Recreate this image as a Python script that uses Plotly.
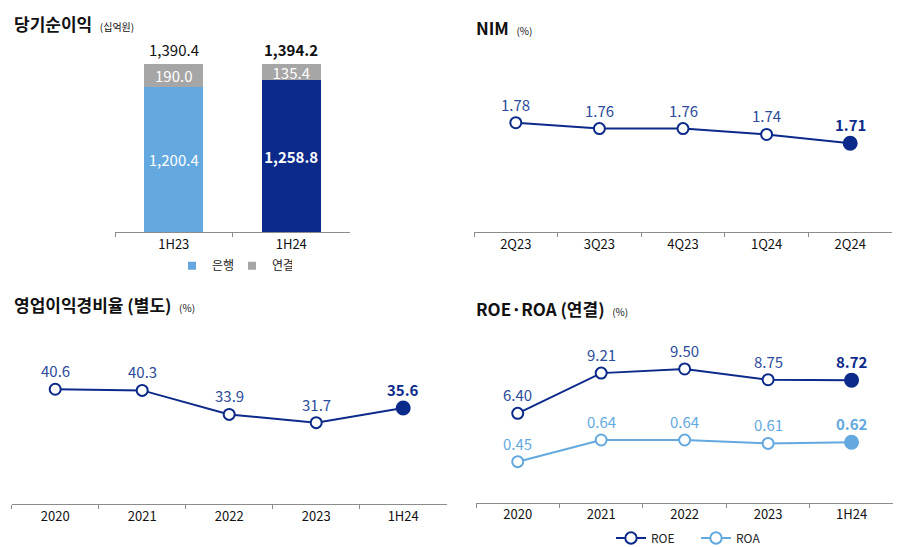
import plotly.graph_objects as go

# ---------------- data ----------------
ni_periods = ["1H23", "1H24"]
ni_bank = [1200.4, 1258.8]
ni_consol = [190.0, 135.4]

nim_quarters = ["2Q23", "3Q23", "4Q23", "1Q24", "2Q24"]
nim_values = [1.78, 1.76, 1.76, 1.74, 1.71]

years = ["2020", "2021", "2022", "2023", "1H24"]
cir_values = [40.6, 40.3, 33.9, 31.7, 35.6]
roe_values = [6.40, 9.21, 9.50, 8.75, 8.72]
roa_values = [0.45, 0.64, 0.64, 0.61, 0.62]

# ---------------- style ----------------
W, H = 899, 547
FONT = "Noto Sans CJK KR, Noto Sans, sans-serif"
NAVY = "#0c2a8a"
LBLUE = "#63a9e0"
GRAY = "#a6a6a6"
LABEL_BLUE = "#2b4b9b"
AXIS_COL = "#8c8c8c"


def fx(px):
    return px / W


def fy(py):
    return 1 - py / H


fig = go.Figure()

# ---------- panel 1: stacked bars ----------
bank_text = [f"{v:,.1f}" for v in ni_bank]
bank_text[-1] = f"<b>{bank_text[-1]}</b>"
fig.add_trace(go.Bar(
    x=ni_periods, y=ni_bank, width=0.5,
    marker=dict(color=[LBLUE, NAVY], line=dict(width=0)),
    text=bank_text, textposition="inside", insidetextanchor="middle",
    textangle=0, constraintext="none",
    textfont=dict(color="white", size=15, family=FONT),
    showlegend=False, xaxis="x", yaxis="y", hoverinfo="skip",
))
fig.add_trace(go.Bar(
    x=ni_periods, y=ni_consol, width=0.5,
    marker=dict(color=GRAY, line=dict(width=0)),
    text=[f"{v:,.1f}" for v in ni_consol], textposition="inside",
    insidetextanchor="middle", textangle=0, constraintext="none",
    textfont=dict(color="white", size=15, family=FONT),
    showlegend=False, xaxis="x", yaxis="y", hoverinfo="skip",
))
# legend entries for panel 1
fig.add_trace(go.Scatter(x=[None], y=[None], mode="markers", name="은행",
                         marker=dict(symbol="square", size=8, color=LBLUE),
                         legend="legend", xaxis="x", yaxis="y"))
fig.add_trace(go.Scatter(x=[None], y=[None], mode="markers", name="연결",
                         marker=dict(symbol="square", size=8, color=GRAY),
                         legend="legend", xaxis="x", yaxis="y"))

annotations = []
for i, p in enumerate(ni_periods):
    tot = ni_bank[i] + ni_consol[i]
    t = f"{tot:,.1f}"
    if i == len(ni_periods) - 1:
        t = f"<b>{t}</b>"
    annotations.append(dict(x=i, y=tot, xref="x", yref="y", text=t, showarrow=False,
                            yanchor="bottom", yshift=2,
                            font=dict(size=15, color="#111111", family=FONT)))


def marker_style(color, n):
    return dict(symbol="circle", size=[11] * (n - 1) + [13], opacity=1,
                color=["white"] * (n - 1) + [color],
                line=dict(color=color, width=2))


def add_labels(ys, fmt, xref, yref, color, last_color):
    n = len(ys)
    for i, yv in enumerate(ys):
        t = fmt.format(yv)
        c = color
        if i == n - 1:
            t = f"<b>{t}</b>"
            c = last_color
        annotations.append(dict(x=i, y=yv, xref=xref, yref=yref, text=t,
                                showarrow=False, yanchor="bottom", yshift=6,
                                font=dict(size=15, color=c, family=FONT)))


# ---------- panel 2: NIM ----------
fig.add_trace(go.Scatter(x=nim_quarters, y=nim_values, mode="lines+markers",
                         line=dict(color=NAVY, width=2),
                         marker=marker_style(NAVY, len(nim_values)),
                         showlegend=False, xaxis="x2", yaxis="y2", hoverinfo="skip"))
add_labels(nim_values, "{:.2f}", "x2", "y2", LABEL_BLUE, NAVY)

# ---------- panel 3: cost-income ratio ----------
fig.add_trace(go.Scatter(x=years, y=cir_values, mode="lines+markers",
                         line=dict(color=NAVY, width=2),
                         marker=marker_style(NAVY, len(cir_values)),
                         showlegend=False, xaxis="x3", yaxis="y3", hoverinfo="skip"))
add_labels(cir_values, "{:.1f}", "x3", "y3", LABEL_BLUE, NAVY)

# ---------- panel 4: ROE / ROA ----------
fig.add_trace(go.Scatter(x=years, y=roe_values, mode="lines+markers", name="ROE",
                         line=dict(color=NAVY, width=2),
                         marker=marker_style(NAVY, len(roe_values)),
                         legend="legend2", xaxis="x4", yaxis="y4", hoverinfo="skip"))
fig.add_trace(go.Scatter(x=years, y=roa_values, mode="lines+markers", name="ROA",
                         line=dict(color=LBLUE, width=2),
                         marker=marker_style(LBLUE, len(roa_values)),
                         legend="legend2", xaxis="x4", yaxis="y5", hoverinfo="skip"))
add_labels(roe_values, "{:.2f}", "x4", "y4", LABEL_BLUE, NAVY)
add_labels(roa_values, "{:.2f}", "x4", "y5", LBLUE, LBLUE)

# ---------- titles ----------
titles = [
    (12, 23, "당기순이익", "(십억원)"),
    (474, 27, "NIM", "(%)"),
    (12, 305, "영업이익경비율 (별도)", "(%)"),
    (474, 308, "ROE·ROA (연결)", "(%)"),
]
for px, py, main, unit in titles:
    annotations.append(dict(
        x=fx(px), y=fy(py), xref="paper", yref="paper", xanchor="left", yanchor="middle",
        showarrow=False,
        text=f"<b>{main}</b>  <span style='font-size:10px'>{unit}</span>",
        font=dict(size=17, color="#111111", family=FONT)))


def xaxis_style(domain, n, anchor):
    return dict(domain=domain, anchor=anchor, type="category", range=[-0.5, n - 0.5],
                showline=True, linecolor=AXIS_COL, linewidth=1, ticks="outside",
                tickson="boundaries", ticklen=4, tickcolor=AXIS_COL, showgrid=False,
                zeroline=False, tickfont=dict(size=13, color="#111111", family=FONT),
                fixedrange=True)


def yaxis_style(domain, rng, anchor):
    return dict(domain=domain, anchor=anchor, range=rng, visible=False,
                showgrid=False, zeroline=False, fixedrange=True)


fig.update_layout(
    width=W, height=H, margin=dict(l=0, r=0, t=0, b=0, autoexpand=False),
    paper_bgcolor="white", plot_bgcolor="white",
    font=dict(family=FONT, color="#222222"),
    barmode="stack",
    xaxis=xaxis_style([fx(115), fx(350)], 2, "y"),
    yaxis=yaxis_style([fy(232.3), fy(40)], [0, 1592], "x"),
    xaxis2=xaxis_style([fx(474), fx(892)], 5, "y2"),
    yaxis2=yaxis_style([fy(232.3), fy(40)], [1.4072, 2.0613], "x2"),
    xaxis3=xaxis_style([fx(11.7), fx(446.7)], 5, "y3"),
    yaxis3=yaxis_style([fy(504), fy(330)], [10.0, 56.41], "x3"),
    xaxis4=xaxis_style([fx(476), fx(893.3)], 5, "y4"),
    yaxis4=yaxis_style([fy(502.7), fy(330)], [0.15, 12.225], "x4"),
    yaxis5=dict(overlaying="y4", anchor="x4", range=[0.09, 1.605], visible=False,
                showgrid=False, zeroline=False, fixedrange=True, side="right"),
    legend=dict(orientation="h", x=fx(172), y=fy(265.7), xanchor="left", yanchor="middle",
                traceorder="normal", entrywidth=15, entrywidthmode="pixels",
                font=dict(size=12, color="#222222", family=FONT), bgcolor="rgba(0,0,0,0)",
                itemwidth=30),
    legend2=dict(orientation="h", x=fx(611), y=fy(538), xanchor="left", yanchor="middle",
                 traceorder="normal", entrywidth=40, entrywidthmode="pixels",
                 font=dict(size=12, color="#222222", family=FONT), bgcolor="rgba(0,0,0,0)",
                 itemwidth=30),
    annotations=annotations,
)

fig.write_html("out.html")
